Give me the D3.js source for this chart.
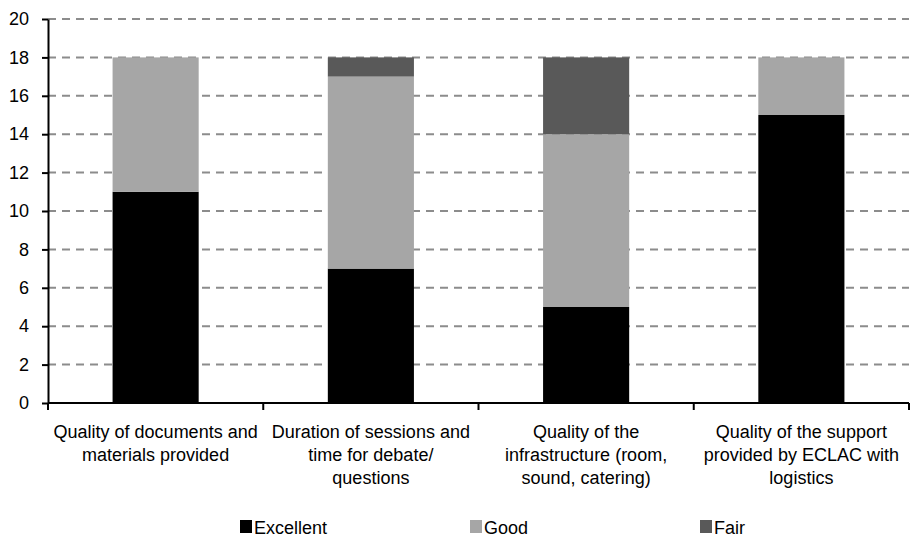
<!DOCTYPE html>
<html>
<head>
<meta charset="utf-8">
<script src="https://cdn.jsdelivr.net/npm/d3@7"></script>
<style>
  html, body { margin: 0; padding: 0; background: #fff; }
  svg { display: block; font-family: "Liberation Sans", Arial, sans-serif; }
</style>
</head>
<body>
<svg id="chart" width="910" height="537"></svg>
<script>
// Survey ratings per aspect of the meeting
const categories = [
  ["Quality of documents and", "materials provided"],
  ["Duration of sessions and", "time for debate/", "questions"],
  ["Quality of the", "infrastructure (room,", "sound, catering)"],
  ["Quality of the support", "provided by ECLAC with", "logistics"]
];
const seriesNames = ["Excellent", "Good", "Fair"];
const excellent = [11, 7, 5, 15];
const good = [7, 10, 9, 3];
const fair = [0, 1, 4, 0];
const yTicks = [0, 2, 4, 6, 8, 10, 12, 14, 16, 18, 20];

const colors = { Excellent: "#000000", Good: "#a6a6a6", Fair: "#595959" };

const svg = d3.select("#chart");
const margin = { left: 48, right: 1, top: 19, bottom: 134 };
const W = 910, H = 537;
const plotW = W - margin.left - margin.right;
const plotH = H - margin.top - margin.bottom;

const rows = categories.map((c, i) => ({
  key: i, Excellent: excellent[i], Good: good[i], Fair: fair[i]
}));

const x = d3.scaleBand()
  .domain(rows.map(d => d.key))
  .range([0, plotW])
  .paddingInner(0.6)
  .paddingOuter(0.3);

const y = d3.scaleLinear().domain([0, 20]).range([plotH, 0]);

const g = svg.append("g").attr("transform", `translate(${margin.left},${margin.top})`);

// dashed horizontal gridlines
g.append("g")
  .selectAll("line")
  .data(yTicks.filter(t => t > 0))
  .join("line")
  .attr("x1", 0).attr("x2", plotW)
  .attr("y1", d => y(d)).attr("y2", d => y(d))
  .attr("stroke", "#8c8c8c")
  .attr("stroke-width", 2)
  .attr("stroke-dasharray", "8,6");

// stacked bars
const stack = d3.stack().keys(seriesNames)(rows);
g.append("g")
  .selectAll("g")
  .data(stack)
  .join("g")
  .attr("fill", d => colors[d.key])
  .selectAll("rect")
  .data(d => d.filter(p => p[1] - p[0] > 0))
  .join("rect")
  .attr("x", d => x(d.data.key))
  .attr("width", x.bandwidth())
  .attr("y", d => y(d[1]))
  .attr("height", d => y(d[0]) - y(d[1]));

// y axis
const yAxis = g.append("g")
  .call(d3.axisLeft(y).tickValues(yTicks).tickSize(6).tickPadding(13).tickSizeOuter(0));
yAxis.select(".domain").attr("stroke", "#000").attr("stroke-width", 2);
yAxis.selectAll(".tick line").attr("stroke", "#000").attr("stroke-width", 2);
yAxis.selectAll(".tick text")
  .attr("font-size", 18)
  .attr("fill", "#000")
  .attr("font-family", "Liberation Sans, Arial, sans-serif");

// x axis line with category boundary ticks
const xg = g.append("g").attr("transform", `translate(0,${plotH})`);
xg.append("line")
  .attr("x1", 0).attr("x2", plotW)
  .attr("stroke", "#000").attr("stroke-width", 2);
const step = x.step();
const bounds = d3.range(rows.length + 1).map(i => x(0) - x.paddingOuter() * step + i * step);
xg.selectAll("line.tk")
  .data(bounds)
  .join("line")
  .attr("class", "tk")
  .attr("x1", d => d).attr("x2", d => d)
  .attr("y1", 0).attr("y2", 7)
  .attr("stroke", "#000").attr("stroke-width", 2);

// category labels
const lab = xg.selectAll("text.cat")
  .data(rows)
  .join("text")
  .attr("class", "cat")
  .attr("text-anchor", "middle")
  .attr("font-size", 18)
  .attr("fill", "#000");
lab.each(function(d, i) {
  const t = d3.select(this);
  categories[i].forEach((line, j) => {
    t.append("tspan")
      .attr("x", x(d.key) + x.bandwidth() / 2)
      .attr("y", 35 + j * 23)
      .text(line);
  });
});

// legend
const legend = svg.append("g").attr("transform", "translate(240,520)");
const li = legend.selectAll("g")
  .data(seriesNames)
  .join("g")
  .attr("transform", (d, i) => `translate(${i * 230},0)`);
li.append("rect")
  .attr("width", 12).attr("height", 13)
  .attr("fill", d => colors[d]);
li.append("text")
  .attr("x", 14).attr("y", 13.5)
  .attr("font-size", 18)
  .attr("fill", "#000")
  .text(d => d);
</script>
</body>
</html>
